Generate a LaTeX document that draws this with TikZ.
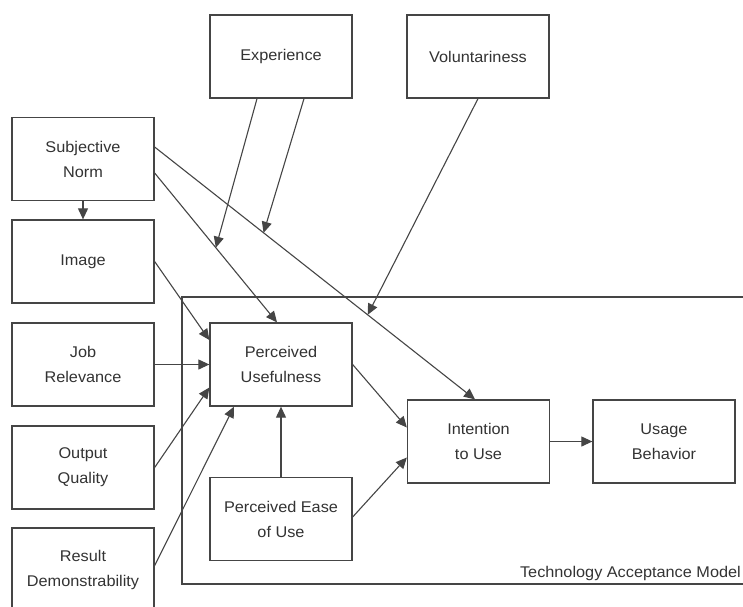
\documentclass[tikz,border=0pt]{standalone}
\usepackage{fontspec}
\setmainfont[FakeStretch=1.05]{Liberation Sans}
\usetikzlibrary{arrows.meta,calc}
\definecolor{linec}{gray}{0.27}
\definecolor{textc}{gray}{0.2}
\begin{document}
\begin{tikzpicture}[x=1pt,y=-1pt,
  box/.style={draw=linec, line width=1.3pt, fill=white, minimum width=142pt,
    minimum height=83pt, align=center, inner sep=0pt, text=textc,
    font=\fontsize{15.5}{25}\selectfont},
  link/.style={draw=linec, line width=1.1pt, -{Triangle[length=11pt,width=10pt]}},
]
\path[use as bounding box, clip] (0,0) rectangle (743,606);

% Technology Acceptance Model frame
\draw[draw=linec, line width=1.3pt] (182,297) rectangle (760,584);
\node[anchor=base east, text=textc, font=\fontsize{15.5}{16}\selectfont, inner sep=0pt]
  (tamlabel) at (741,577) {Technology Acceptance Model};

% external factors
\node[box] (exp) at (281,56.5) {Experience};
\node[box] (vol) at (478,56.5) {Voluntariness};
\node[box] (sn)  at (83,159)   {Subjective\\Norm};
\node[box] (img) at (83,261.5) {Image};
\node[box] (job) at (83,364.5) {Job\\Relevance};
\node[box] (oq)  at (83,467.5) {Output\\Quality};
\node[box] (rd)  at (83,569.5) {Result\\Demonstrability};

% core model
\node[box] (pu)   at (281,364.5) {Perceived\\Usefulness};
\node[box] (peou) at (281,519)   {Perceived Ease\\of Use};
\node[box] (itu)  at (478.5,441.5) {Intention\\to Use};
\node[box] (ub)   at (664,441.5) {Usage\\Behavior};

% subjective norm paths
\coordinate (snA) at ([yshift=12pt]sn.east);
\coordinate (snB) at ([yshift=-14pt]sn.east);
\coordinate (ituT) at ([xshift=-3.5pt]itu.north);
\coordinate (puT) at ([xshift=-4pt]pu.north);
\draw[link] (sn.south) -- (img.north);
\draw[link] (snA) -- (ituT);
\draw[link] (snB) -- (puT);

% moderators
\coordinate (m1) at ($(snB)!0.5!(puT)$);
\coordinate (m2) at ($(snA)!0.34!(ituT)$);
\coordinate (m3) at ($(snA)!0.665!(ituT)$);
\draw[link] ([xshift=-24pt]exp.south) -- (m1);
\draw[link] ([xshift=23pt]exp.south) -- (m2);
\draw[link] (vol.south) -- (m3);

% determinants of perceived usefulness
\draw[link] (img.east) -- ([yshift=24.5pt]pu.west);
\draw[link] (job.east) -- (pu.west);
\draw[link] (oq.east) -- ([yshift=-23pt]pu.west);
\draw[link] ([yshift=4pt]rd.east) -- ([xshift=-47pt]pu.south);
\draw[link] (peou.north) -- (pu.south);

% towards usage
\draw[link] (pu.east) -- ([yshift=14pt]itu.west);
\draw[link] ([yshift=2pt]peou.east) -- ([yshift=-16pt]itu.west);
\draw[link] (itu.east) -- (ub.west);
\end{tikzpicture}
\end{document}
